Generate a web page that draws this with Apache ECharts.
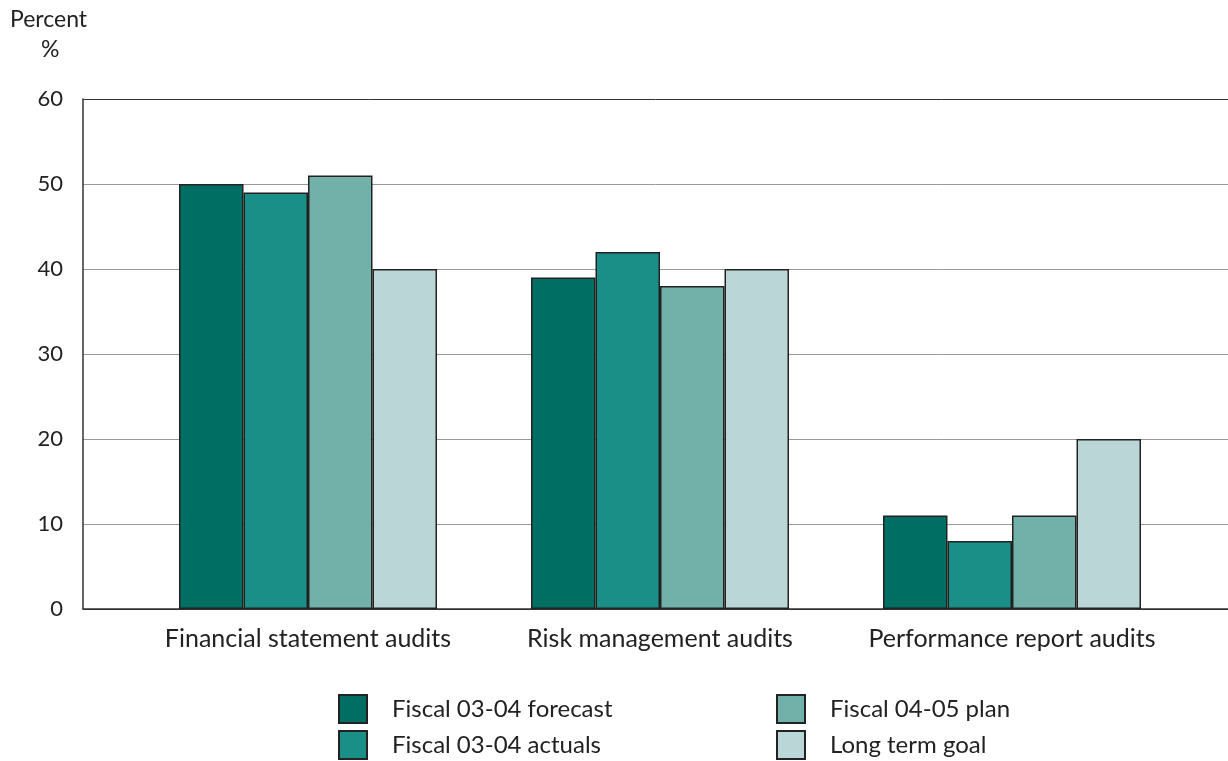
<!DOCTYPE html>
<html>
<head>
<meta charset="utf-8">
<script src="https://cdn.jsdelivr.net/npm/echarts@6/dist/echarts.min.js"></script>
<style>
  html, body { margin: 0; padding: 0; background: #fff; }
  #chart { width: 1228px; height: 761px; }
</style>
</head>
<body>
<div id="chart"></div>
<script>
var categories = ['Financial statement audits', 'Risk management audits', 'Performance report audits'];
var seriesNames = ['Fiscal 03-04 forecast', 'Fiscal 03-04 actuals', 'Fiscal 04-05 plan', 'Long term goal'];
var forecast0304 = [50, 39, 11];
var actuals0304 = [49, 42, 8];
var plan0405 = [51, 38, 11];
var longTermGoal = [40, 40, 20];
var colors = ['#006e63', '#1a8f88', '#72b0aa', '#bbd6d6'];

var FONT = 'Lato, "Open Sans", sans-serif';
var chart = echarts.init(document.getElementById('chart'));

var values = [forecast0304, actuals0304, plan0405, longTermGoal];
var series = values.map(function (v, i) {
  return {
    name: seriesNames[i],
    type: 'bar',
    xAxisIndex: 1,
    yAxisIndex: 1,
    data: v,
    barGap: '0%',
    barCategoryGap: '26.7%',
    itemStyle: { color: colors[i], borderColor: '#222', borderWidth: 1.5 }
  };
});

// one legend per item so the two columns line up like the reference
var legendPos = [[338, 694], [338, 730], [776, 694], [776, 730]];
var legends = seriesNames.map(function (name, i) {
  return {
    data: [name],
    left: legendPos[i][0], top: legendPos[i][1],
    padding: 0,
    itemWidth: 28, itemHeight: 28, icon: 'rect',
    textStyle: { fontSize: 24, color: '#222', padding: [0, 0, 0, 20], fontFamily: FONT }
  };
});

var option = {
  animation: false,
  textStyle: { fontFamily: FONT },
  title: [
    { text: 'Percent', left: 10, top: 8, padding: 0, textStyle: { fontSize: 23, fontWeight: 'normal', color: '#222', fontFamily: FONT } },
    { text: '%', left: 41, top: 38, padding: 0, textStyle: { fontSize: 23, fontWeight: 'normal', color: '#222', fontFamily: FONT } }
  ],
  legend: legends,
  grid: [
    { left: 83, right: 0, top: 99, bottom: 152 },
    { left: 132, right: 40, top: 99, bottom: 152 }
  ],
  xAxis: [
    {
      gridIndex: 0, type: 'value', min: 0, max: 1,
      axisLine: { show: true, lineStyle: { color: '#333', width: 1.5 } },
      axisTick: { show: false }, axisLabel: { show: false }, splitLine: { show: false }
    },
    {
      gridIndex: 1, type: 'category', data: categories,
      axisLine: { show: false }, axisTick: { show: false },
      axisLabel: { interval: 0, fontSize: 25, color: '#222', margin: 17, fontFamily: FONT }
    }
  ],
  yAxis: [
    {
      gridIndex: 0, type: 'value', min: 0, max: 60, interval: 10,
      axisLine: { show: true, lineStyle: { color: '#333', width: 1.5 } },
      axisTick: { show: false },
      axisLabel: { fontSize: 22, color: '#222', margin: 20, fontFamily: FONT },
      splitLine: { show: true, lineStyle: { color: ['#333', '#999', '#999', '#999', '#999', '#999', '#333'], width: 1 } }
    },
    {
      gridIndex: 1, type: 'value', min: 0, max: 60, interval: 10, show: false,
      splitLine: { show: false }
    }
  ],
  series: series
};

chart.setOption(option);
</script>
</body>
</html>
